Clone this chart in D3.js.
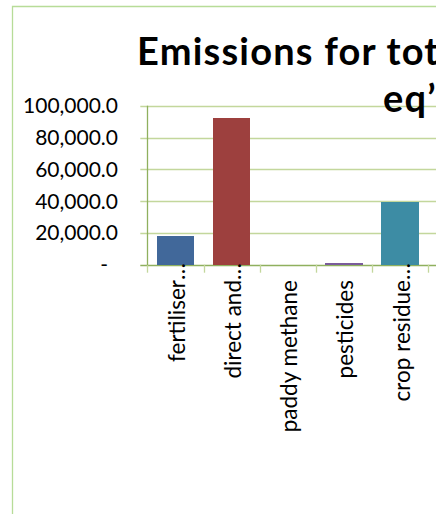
<!DOCTYPE html>
<html>
<head>
<meta charset="utf-8">
<script src="https://cdn.jsdelivr.net/npm/d3@7"></script>
<style>
  body { margin: 0; background: #fff; }
  svg { display: block; overflow: hidden; }
  text { font-family: Lato, "Noto Sans", sans-serif; fill: #000; }
  .title { font-weight: bold; font-size: 38px; letter-spacing: 1.2px; }
  .tick-label { font-size: 21px; }
  .cat-label { font-size: 22.5px; }
</style>
</head>
<body>
<div id="chart"></div>
<script>
// categories as shown on the axis (Excel cut the long ones)
const categories = ['fertiliser', 'direct and', 'paddy methane', 'pesticides', 'crop residue'];
const truncated = [true, true, false, false, true];
const emissions = [18100, 92300, 0, 800, 39400];
const yTicks = [0, 20000, 40000, 60000, 80000, 100000];
const barColors = ['#41689a', '#9d403e', '#7a5c9b', '#7a5c9b', '#3d8ca4'];
const titleLines = ['Emissions for total production (kg CO2', 'eq\u2019)'];

const width = 436,
      height = 514;

const plot = {left: 147.3, right: 428.3, top: 105.7, bottom: 264.7};

const svg = d3.select('#chart').append('svg')
    .attr('width', width)
    .attr('height', height);

// chart frame (only left and top edge are in view)
svg.append('path')
    .attr('d', `M12.5,${height} V6.5 H${width}`)
    .attr('fill', 'none')
    .attr('stroke', '#b7dc98')
    .attr('stroke-width', 1.3);

let x = d3.scaleBand()
    .domain(categories)
    .range([plot.left, plot.right])
    .paddingInner(1 / 3)
    .paddingOuter(1 / 6);

let y = d3.scaleLinear()
    .domain([0, 100000])
    .range([plot.bottom, plot.top]);

// gridlines
svg.append('g')
    .selectAll('line')
    .data(yTicks)
    .enter().append('line')
    .attr('x1', plot.left - 7)
    .attr('x2', width)
    .attr('y1', d => Math.round(y(d)) + 0.5)
    .attr('y2', d => Math.round(y(d)) + 0.5)
    .attr('stroke', d => d === 0 ? '#8fb05e' : '#c3d79c')
    .attr('stroke-width', 1.3);

// y tick labels
svg.append('g')
    .selectAll('text')
    .data(yTicks)
    .enter().append('text')
    .attr('class', 'tick-label')
    .attr('x', d => d === 0 ? 108 : 118)
    .attr('y', d => y(d))
    .attr('dy', '0.36em')
    .attr('text-anchor', 'end')
    .text(d => d === 0 ? '-' : d3.format(',.1f')(d));

// category boundary ticks
let bounds = categories.map(c => x(c) - x.step() * x.paddingOuter());
bounds.push(plot.right);
svg.append('g')
    .selectAll('line')
    .data(bounds)
    .enter().append('line')
    .attr('x1', d => Math.round(d) + 0.5)
    .attr('x2', d => Math.round(d) + 0.5)
    .attr('y1', plot.bottom)
    .attr('y2', plot.bottom + 8)
    .attr('stroke', '#c3d79c')
    .attr('stroke-width', 1.3);

// bars
svg.append('g')
    .selectAll('rect')
    .data(emissions)
    .enter().append('rect')
    .attr('x', (d, i) => x(categories[i]))
    .attr('width', x.bandwidth())
    .attr('y', d => y(d))
    .attr('height', d => y(0) - y(d))
    .attr('fill', (d, i) => barColors[i])
    .attr('shape-rendering', 'crispEdges');

// value axis line
svg.append('line')
    .attr('x1', Math.round(plot.left) + 0.5)
    .attr('x2', Math.round(plot.left) + 0.5)
    .attr('y1', plot.top)
    .attr('y2', plot.bottom + 0.5)
    .attr('stroke', '#8fb05e')
    .attr('stroke-width', 1.3);

// category labels, rotated
let labels = svg.append('g')
    .selectAll('g')
    .data(categories)
    .enter().append('g')
    .attr('transform', d => `translate(${x(d) + x.bandwidth() / 2}, 280) rotate(-90)`);

labels.append('text')
    .attr('class', 'cat-label')
    .attr('text-anchor', 'end')
    .attr('dy', '0.42em')
    .text(d => d);

labels.filter((d, i) => truncated[i])
    .append('text')
    .attr('class', 'cat-label')
    .attr('text-anchor', 'start')
    .attr('dy', '0.42em')
    .text('\u2026');

// title
svg.append('g')
    .selectAll('text')
    .data(titleLines)
    .enter().append('text')
    .attr('class', 'title')
    .attr('x', (d, i) => i === 0 ? 137 : 383)
    .attr('y', (d, i) => i === 0 ? 65 : 112)
    .text(d => d);
</script>
</body>
</html>
